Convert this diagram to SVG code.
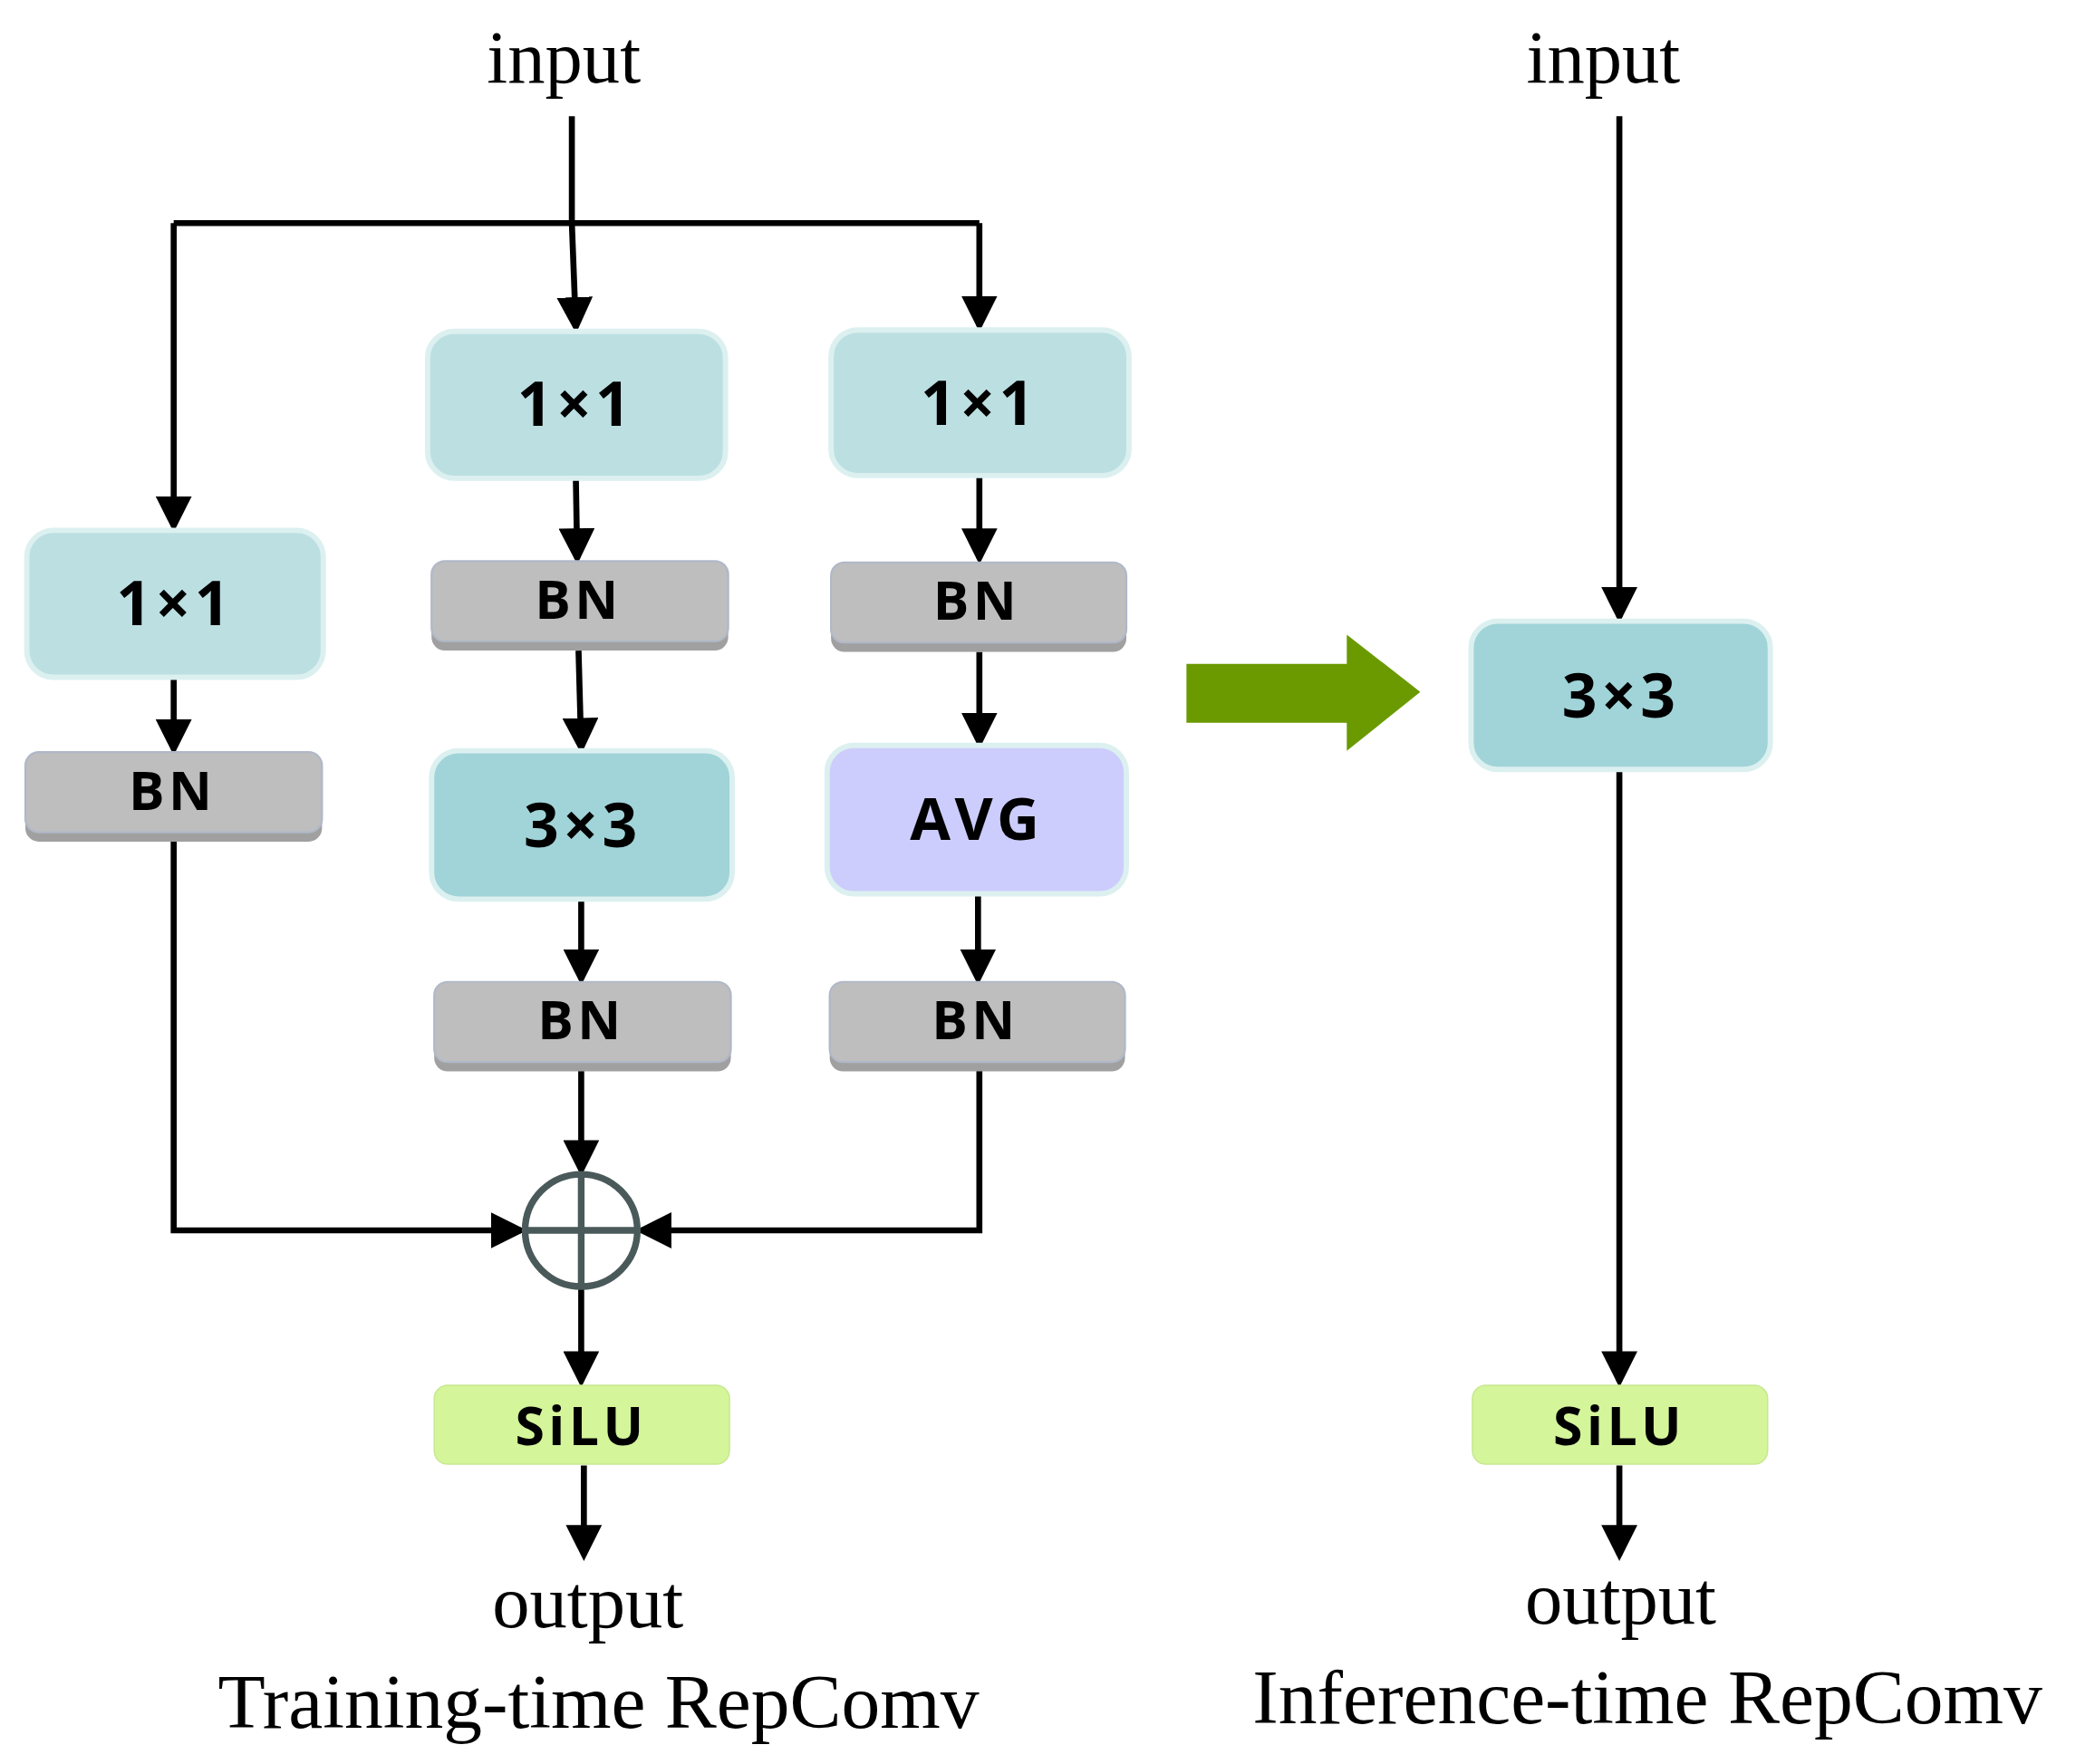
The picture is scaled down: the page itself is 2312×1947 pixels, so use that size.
<svg xmlns="http://www.w3.org/2000/svg" width="2312" height="1947" viewBox="0 0 2312 1947">
<style>
.t{font-family:"Liberation Serif",serif;font-size:56px;fill:#000;text-anchor:middle}
.b{font-family:"Open Sans","Noto Sans",sans-serif;font-weight:bold;fill:#000;text-anchor:middle;letter-spacing:3px}
.c1{fill:#bcdfe2;stroke:#dcf0f0;stroke-width:4}
.c3{fill:#a0d4d8;stroke:#dcf0f0;stroke-width:4}
.avg{fill:#cccdfc;stroke:#dcf0f0;stroke-width:4}
.bn{fill:#bebebe;stroke:#b0b8c8;stroke-width:1.5}
.sh{fill:#a0a0a0}
.silu{fill:#d4f59a;stroke:#c8e890;stroke-width:1}
.ln{fill:none;stroke:#000;stroke-width:4.5}
</style>
<defs>
<marker id="ah" markerWidth="6" markerHeight="6" refX="5" refY="3" orient="auto" markerUnits="strokeWidth">
<path d="M0,0 L6,3 L0,6 z" fill="#000"/>
</marker>
</defs>
<rect width="2312" height="1947" fill="#fff"/>
<g transform="scale(1.4745)">
<g id="labels">
<text class="t" x="422" y="62">input</text>
<text class="t" x="1200" y="62">input</text>
<text class="t" x="440" y="1218">output</text>
<text class="t" x="1213" y="1215">output</text>
<text class="t" x="448" y="1293" style="font-size:58px">Training-time RepComv</text>
<text class="t" x="1233" y="1290" style="font-size:58px">Inference-time RepComv</text>
</g>
<g id="connectors">
<path class="ln" d="M428,87 L428,167"/>
<path class="ln" d="M130,167 L733,167"/>
<path class="ln" d="M130,167 L130,394" marker-end="url(#ah)"/>
<path class="ln" d="M428,167 L431,245" marker-end="url(#ah)"/>
<path class="ln" d="M733,167 L733,244" marker-end="url(#ah)"/>
<path class="ln" d="M431,358 L432,418" marker-end="url(#ah)"/>
<path class="ln" d="M733,356 L733,418" marker-end="url(#ah)"/>
<path class="ln" d="M130,507 L130,561" marker-end="url(#ah)"/>
<path class="ln" d="M433,487 L435,560" marker-end="url(#ah)"/>
<path class="ln" d="M733,488 L733,556" marker-end="url(#ah)"/>
<path class="ln" d="M435,673 L435,733" marker-end="url(#ah)"/>
<path class="ln" d="M732,669 L732,733" marker-end="url(#ah)"/>
<path class="ln" d="M130,629 L130,921 L390,921" marker-end="url(#ah)"/>
<path class="ln" d="M733,801 L733,921 L480,921" marker-end="url(#ah)"/>
<path class="ln" d="M435,801 L435,876" marker-end="url(#ah)"/>
<path class="ln" d="M435,965 L435,1034" marker-end="url(#ah)"/>
<path class="ln" d="M437,1097 L437,1164" marker-end="url(#ah)"/>
<path class="ln" d="M1212,87 L1212,462" marker-end="url(#ah)"/>
<path class="ln" d="M1212,576 L1212,1034" marker-end="url(#ah)"/>
<path class="ln" d="M1212,1097 L1212,1164" marker-end="url(#ah)"/>
</g>
<g id="left_1x1"><rect class="c1" x="20" y="397" width="222" height="110" rx="20"/><text class="b" x="131" y="468" font-size="46">1×1</text></g>
<g id="left_bn"><rect class="sh" x="19" y="569" width="222" height="61" rx="10"/><rect class="bn" x="19" y="563" width="222" height="60" rx="10"/><text class="b" x="129" y="606" font-size="40">BN</text></g>
<g id="mid_1x1"><rect class="c1" x="320" y="248" width="223" height="110" rx="20"/><text class="b" x="431" y="319" font-size="46">1×1</text></g>
<g id="mid_bn1"><rect class="sh" x="323" y="426" width="222" height="61" rx="10"/><rect class="bn" x="323" y="420" width="222" height="60" rx="10"/><text class="b" x="433" y="463" font-size="40">BN</text></g>
<g id="mid_3x3"><rect class="c3" x="323" y="562" width="225" height="111" rx="20"/><text class="b" x="436" y="634" font-size="46">3×3</text></g>
<g id="mid_bn2"><rect class="sh" x="325" y="741" width="222" height="61" rx="10"/><rect class="bn" x="325" y="735" width="222" height="60" rx="10"/><text class="b" x="435" y="778" font-size="40">BN</text></g>
<g id="right_1x1"><rect class="c1" x="622" y="247" width="223" height="109" rx="20"/><text class="b" x="733" y="318" font-size="46">1×1</text></g>
<g id="right_bn1"><rect class="sh" x="622" y="427" width="221" height="61" rx="10"/><rect class="bn" x="622" y="421" width="221" height="60" rx="10"/><text class="b" x="731" y="464" font-size="40">BN</text></g>
<g id="avg"><rect class="avg" x="619" y="558" width="224" height="111" rx="20"/><text class="b" x="731" y="629" font-size="44">AVG</text></g>
<g id="right_bn2"><rect class="sh" x="621" y="741" width="221" height="61" rx="10"/><rect class="bn" x="621" y="735" width="221" height="60" rx="10"/><text class="b" x="730" y="778" font-size="40">BN</text></g>
<g id="add"><circle cx="435" cy="921" r="42" fill="none" stroke="#4a5a5a" stroke-width="5"/><path d="M435,879 L435,963 M393,921 L477,921" stroke="#4a5a5a" stroke-width="5"/></g>
<g id="silu_train"><rect class="silu" x="325" y="1037" width="221" height="59" rx="10"/><text class="b" x="435" y="1082" font-size="40">SiLU</text></g>
<g id="big_arrow"><path d="M888,497 L1008,497 L1008,475 L1063,518 L1008,562 L1008,541 L888,541 z" fill="#6a9a00"/></g>
<g id="inf_3x3"><rect class="c3" x="1101" y="465" width="224" height="111" rx="20"/><text class="b" x="1213" y="537" font-size="46">3×3</text></g>
<g id="silu_inf"><rect class="silu" x="1102" y="1037" width="221" height="59" rx="10"/><text class="b" x="1212" y="1082" font-size="40">SiLU</text></g>
</g>
</svg>
